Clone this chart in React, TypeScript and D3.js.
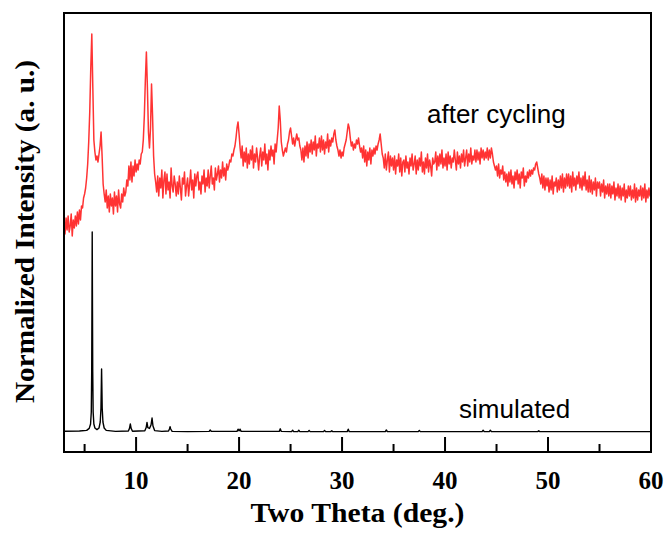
import React from "react";
import * as d3 from "d3";

// ---- data ----
const X_DOMAIN = [3, 60];
const Y_DOMAIN = [-10, 209.5];
const MAJOR_TICKS = [10, 20, 30, 40, 50, 60];
const MINOR_TICKS = [5, 15, 25, 35, 45, 55];
const X_LABEL = "Two Theta (deg.)";
const Y_LABEL = "Normalized Intensity (a. u.)";
const SERIES_NAMES = ["after cycling", "simulated"];

// measured "after cycling" pattern, 2θ from 3.0 to 60.0 in 0.1° steps
const RED_START = 3;
const RED_STEP = 0.1;
const RED_VALUES = [
  104,99,107,101,108,100,103,109,98,106,
  102,108,103,110,104,111,106,113,112,117,
  119,122,127,134,145,160,182,199,172,146,
  140,136,138,135,139,143,150,138,124,119,
  115,121,112,118,110,119,113,117,109,120,
  113,118,110,121,114,112,119,115,122,118,
  120,126,123,133,126,135,125,133,128,136,
  130,134,131,136,134,139,140,146,158,176,
  190,172,150,142,152,174,158,138,129,125,
  120,128,118,127,122,131,117,126,130,119,
  129,121,125,117,132,123,120,128,124,118,
  125,119,128,122,116,127,124,130,118,123,
  127,118,124,131,121,126,117,129,123,128,
  130,121,125,119,128,124,131,120,127,123,
  131,122,128,133,124,127,121,132,126,129,
  133,125,131,127,135,128,132,126,134,131,
  133,136,135,139,138,141,143,147,152,155,
  149,142,137,143,133,140,135,142,132,139,
  134,141,136,143,132,139,135,142,137,131,
  138,142,133,140,136,144,134,139,131,141,
  136,143,138,141,134,144,140,146,152,163,
  156,145,141,138,140,142,140,144,146,150,
  152,148,144,147,143,146,149,146,147,143,
  141,136,142,135,143,138,145,137,144,140,
  146,139,145,141,148,138,144,142,147,140,
  148,141,146,139,145,142,149,140,146,143,
  147,145,149,151,146,143,141,138,141,137,
  140,138,142,144,146,150,154,152,147,143,
  145,141,144,142,146,144,147,143,140,142,
  137,143,135,141,133,140,136,142,134,141,
  138,142,139,143,141,144,146,149,144,139,
  137,132,139,131,136,140,130,138,133,137,
  131,138,129,136,133,139,130,137,128,135,
  136,130,138,132,135,129,137,133,139,131,
  134,138,129,136,131,137,133,140,130,135,
  129,137,132,139,130,136,133,128,137,134,
  135,140,131,138,133,139,134,141,132,137,
  133,139,131,140,134,138,132,137,135,141,
  136,131,140,134,138,132,139,135,141,133,
  137,141,133,139,135,142,134,138,136,141,
  135,141,136,140,134,142,137,141,136,140,
  137,142,136,141,137,142,139,135,133,131,
  133,128,134,127,131,129,133,126,130,125,
  129,123,130,125,131,124,128,122,130,126,
  131,124,129,122,130,127,132,123,128,125,
  130,127,131,128,131,129,132,131,134,135,
  132,129,127,124,129,122,128,121,127,123,
  127,120,126,121,128,119,125,123,127,120,
  126,121,128,122,129,120,127,122,129,123,
  129,122,128,120,130,123,127,121,128,124,
  130,122,127,121,128,123,130,121,126,120,
  128,120,126,119,125,121,127,118,125,122,
  125,118,124,120,126,117,123,119,124,118,
  124,117,123,119,125,116,122,118,124,117,
  123,116,122,118,124,115,121,117,123,118,
  123,116,121,117,124,115,122,116,121,118,
  123,116,122,117,124,115,121,117,122,118,
  121,
];

// simulated pattern: [2θ, intensity]
const SIM_POINTS = [
  [3.0,0.4],[4.5,0.5],[5.2,0.8],[5.45,1.8],[5.58,4],[5.65,10],[5.69,30],[5.72,70],[5.74,100],
  [5.76,70],[5.79,30],[5.83,10],[5.9,4],[6.0,2],[6.2,1.2],[6.4,2],[6.52,5],[6.59,12],[6.63,25],
  [6.65,31.5],[6.67,25],[6.71,12],[6.78,5],[6.9,2],[7.1,0.8],[8,0.3],[9.25,0.5],[9.36,1.8],
  [9.44,4],[9.52,1.8],[9.65,0.4],[10.85,0.6],[10.98,2.2],[11.06,4.8],[11.14,2.2],[11.3,1.8],
  [11.45,3.5],[11.55,7],[11.64,3],[11.8,0.7],[12.5,0.3],[13.15,0.5],[13.24,1.5],[13.3,2.7],
  [13.36,1.5],[13.5,0.3],[15,0.2],[17.1,0.3],[17.2,1],[17.3,0.3],[19.8,0.3],[19.9,1.4],[20.0,0.6],
  [20.1,1.4],[20.2,0.3],[23.9,0.3],[24.0,1.6],[24.1,0.3],[25.1,0.2],[25.2,0.9],[25.3,0.2],
  [25.7,0.2],[25.8,0.9],[25.9,0.2],[26.7,0.2],[26.8,0.8],[26.9,0.2],[28.2,0.2],[28.3,0.8],
  [28.4,0.2],[28.9,0.2],[29.0,0.6],[29.1,0.2],[30.5,0.2],[30.6,1.4],[30.7,0.2],[34.2,0.2],
  [34.3,1],[34.4,0.2],[37.4,0.2],[37.5,0.8],[37.6,0.2],[43.6,0.2],[43.7,0.9],[43.8,0.2],
  [44.3,0.2],[44.4,0.9],[44.5,0.2],[49,0.2],[49.1,0.6],[49.2,0.2],[60,0.2],
];

// ---- layout ----
const W = 669;
const H = 536;
const M = { left: 64, right: 651, top: 13, bottom: 452 };

export default function App() {
  const x = d3.scaleLinear().domain(X_DOMAIN).range([M.left, M.right]);
  const y = d3.scaleLinear().domain(Y_DOMAIN).range([M.bottom, M.top]);

  const redPts: [number, number][] = RED_VALUES.map((v, i) => [RED_START + i * RED_STEP, v]);
  const line = d3
    .line<[number, number]>()
    .x((d) => x(d[0]))
    .y((d) => y(d[1]));

  const serif = "'Liberation Serif', 'Times New Roman', serif";
  const sans = "'Liberation Sans', Arial, sans-serif";

  return (
    <svg
      width={W}
      height={H}
      style={{ position: "absolute", left: 0, top: 0, background: "#fff" }}
    >
      <defs>
        <clipPath id="plotclip">
          <rect x={M.left} y={M.top} width={M.right - M.left} height={M.bottom - M.top} />
        </clipPath>
      </defs>
      <g clipPath="url(#plotclip)">
        <path d={line(redPts) || ""} fill="none" stroke="#ff3333" strokeWidth={1.5} strokeLinejoin="round" />
        <path d={line(SIM_POINTS as [number, number][]) || ""} fill="none" stroke="#000" strokeWidth={1.4} strokeLinejoin="round" />
      </g>
      {/* ticks */}
      {MAJOR_TICKS.map((t) => (
        <line key={"M" + t} x1={x(t)} x2={x(t)} y1={M.bottom} y2={M.bottom - 15} stroke="#000" strokeWidth={2} />
      ))}
      {MINOR_TICKS.map((t) => (
        <line key={"m" + t} x1={x(t)} x2={x(t)} y1={M.bottom} y2={M.bottom - 8} stroke="#000" strokeWidth={2} />
      ))}
      {/* frame */}
      <rect
        x={M.left}
        y={M.top}
        width={M.right - M.left}
        height={M.bottom - M.top}
        fill="none"
        stroke="#000"
        strokeWidth={2}
      />
      {/* tick labels */}
      {MAJOR_TICKS.map((t) => (
        <text
          key={"l" + t}
          x={x(t)}
          y={489}
          textAnchor="middle"
          fontFamily={serif}
          fontWeight="bold"
          fontSize={25}
          fill="#000"
        >
          {t}
        </text>
      ))}
      {/* axis titles */}
      <text
        x={(M.left + M.right) / 2}
        y={521.5}
        textAnchor="middle"
        fontFamily={serif}
        fontWeight="bold"
        fontSize={27}
        textLength={214}
        lengthAdjust="spacingAndGlyphs"
        fill="#000"
      >
        {X_LABEL}
      </text>
      <text
        transform={`translate(34, ${(M.top + M.bottom) / 2 - 1}) rotate(-90)`}
        textAnchor="middle"
        fontFamily={serif}
        fontWeight="bold"
        fontSize={27}
        textLength={343}
        lengthAdjust="spacingAndGlyphs"
        fill="#000"
      >
        {Y_LABEL}
      </text>
      {/* series labels */}
      <text x={427} y={123} fontFamily={sans} fontSize={26} fill="#000">
        {SERIES_NAMES[0]}
      </text>
      <text x={459} y={418} fontFamily={sans} fontSize={26} fill="#000">
        {SERIES_NAMES[1]}
      </text>
    </svg>
  );
}
